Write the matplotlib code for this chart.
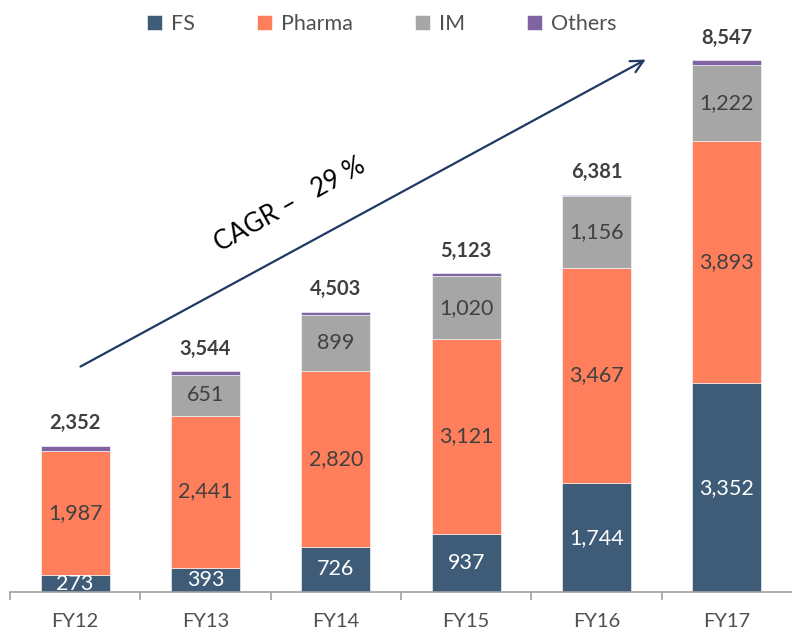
import matplotlib
matplotlib.use("Agg")
import matplotlib.pyplot as plt
import numpy as np

plt.rcParams["font.family"] = ["Lato", "DejaVu Sans"]

# Dati
years = ["FY12", "FY13", "FY14", "FY15", "FY16", "FY17"]
fs = [273, 393, 726, 937, 1744, 3352]
pharma = [1987, 2441, 2820, 3121, 3467, 3893]
im = [0, 651, 899, 1020, 1156, 1222]
others = [92, 59, 58, 45, 14, 80]
totals = [2352, 3544, 4503, 5123, 6381, 8547]

colors = {"FS": "#3E5C78", "Pharma": "#FF7F5C", "IM": "#A6A6A6", "Others": "#8064A2"}
txt_dark = "#404040"

fig = plt.figure(figsize=(7.92, 6.32), dpi=100)
ax = fig.add_axes([10 / 792, 40 / 632, 782 / 792, 552 / 632])

x = np.arange(len(years))
w = 0.53
series = [("FS", fs), ("Pharma", pharma), ("IM", im), ("Others", others)]
bottom = np.zeros(len(years))
for name, vals in series:
    vals = np.array(vals, dtype=float)
    ax.bar(x, vals, w, bottom=bottom, color=colors[name], label=name,
           edgecolor="white", linewidth=0.4)
    if name != "Others":
        tc = "white" if name == "FS" else txt_dark
        for xi, b, v in zip(x, bottom, vals):
            if v <= 0:
                continue
            ax.text(xi, b + v / 2, f"{int(v):,}", ha="center", va="center",
                    color=tc, fontsize=15.5)
    bottom += vals

for xi, t in zip(x, totals):
    ax.annotate(f"{t:,}", (xi, t), xytext=(0, 9), textcoords="offset points",
                ha="center", va="bottom", fontsize=14.5, fontweight="bold", color=txt_dark)

ax.set_xlim(-0.5, 5.5)
ax.set_ylim(0, 8870)
ax.set_yticks([])
for s in ["left", "right", "top"]:
    ax.spines[s].set_visible(False)
ax.spines["bottom"].set_color("#A0A0A0")
ax.spines["bottom"].set_linewidth(1.2)
ax.set_xticks(x)
ax.set_xticklabels(years, fontsize=14.5, color="#505050")
ax.set_xticks(np.arange(-0.5, 5.5, 1.0), minor=True)
ax.tick_params(axis="x", which="major", length=0, pad=15)
ax.tick_params(axis="x", which="minor", length=6, width=1.2, color="#A0A0A0", direction="out")

# freccia CAGR
ax.annotate("", xy=(0.816, 0.967), xytext=(0.087, 0.406), xycoords="axes fraction",
            arrowprops=dict(arrowstyle="->,head_length=0.9,head_width=0.45",
                            color="#1F3864", lw=1.6))
ax.text(0.358, 0.702, "CAGR \u2013   29 %", transform=ax.transAxes, rotation=29,
        ha="center", va="center", fontsize=18.5, color="black")

fig.legend(loc="upper center", bbox_to_anchor=(0.482, 1.008), ncol=4, frameon=False,
           fontsize=15.5, handlelength=0.7, handleheight=0.7, handletextpad=0.4,
           columnspacing=2.9, labelcolor="#505050")

fig.savefig("out.png", dpi=100)
